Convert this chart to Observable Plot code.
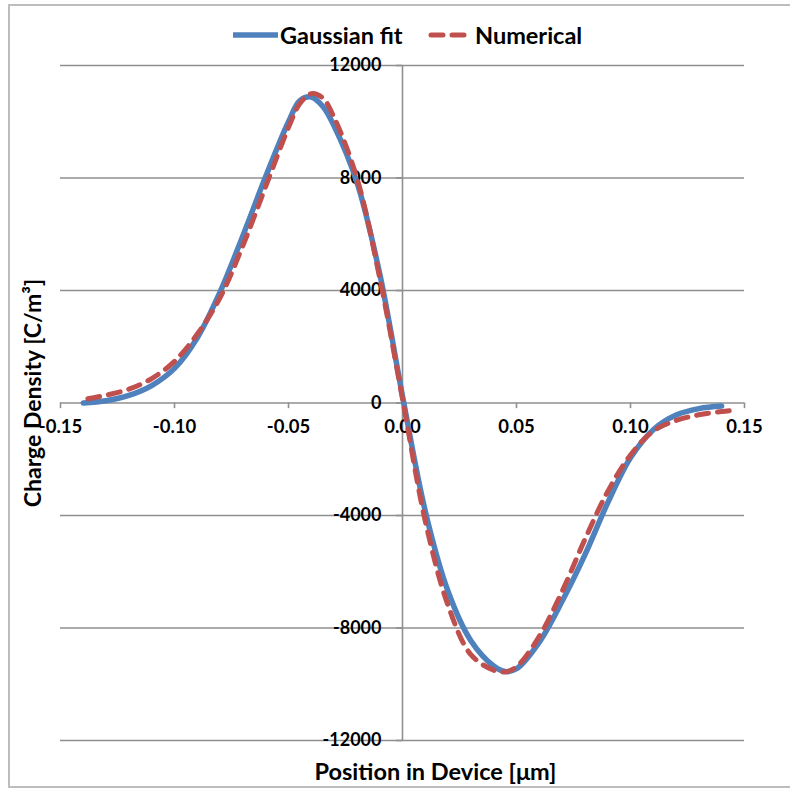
<!DOCTYPE html>
<html><head><meta charset="utf-8">
<script src="https://cdn.jsdelivr.net/npm/d3@7"></script>
<script src="https://cdn.jsdelivr.net/npm/@observablehq/plot@0.6"></script>
<style>
body{margin:0;background:#fff;font-family:Lato,sans-serif;}
#wrap{position:relative;width:790px;height:789px;overflow:hidden;background:#fff}
#border{position:absolute;left:8px;top:4px;width:800px;height:784px;border:2px solid #bdbdbd;box-sizing:border-box;pointer-events:none}
#legend{position:absolute;top:20px;left:0;width:790px;height:30px;font-weight:700;font-size:23.5px;color:#000}
.item{position:absolute;top:0;display:flex;align-items:center;height:30px}
svg.chart{position:absolute;left:0;top:0}
</style>
</head><body>
<div id="wrap"><div id="border"></div><div id="legend"></div></div>
<script>
// Series: Gaussian fit
const gaussX = [-0.14,-0.13,-0.12,-0.11,-0.10,-0.09,-0.08,-0.07,-0.06,-0.05,-0.045,-0.04,-0.035,-0.03,-0.02,-0.01,0.00,0.01,0.02,0.03,0.04,0.045,0.05,0.06,0.07,0.08,0.09,0.10,0.11,0.12,0.13,0.14];
const gaussY = [0,80,270,620,1230,2320,3950,5950,8050,10000,10750,10880,10550,9850,7850,4600,250,-3850,-6700,-8450,-9350,-9550,-9450,-8500,-7050,-5400,-3550,-1950,-950,-430,-200,-110];
// Series: Numerical
const numX = [-0.138,-0.13,-0.12,-0.11,-0.10,-0.09,-0.08,-0.07,-0.06,-0.05,-0.045,-0.04,-0.035,-0.03,-0.02,-0.01,0.00,0.01,0.02,0.03,0.04,0.045,0.05,0.06,0.07,0.08,0.09,0.10,0.11,0.12,0.13,0.14,0.147];
const numY = [150,280,490,870,1480,2450,3750,5600,7700,9800,10650,11000,10850,10150,8000,4450,150,-4200,-7200,-8950,-9500,-9560,-9380,-8300,-6700,-4850,-3150,-1850,-1000,-620,-420,-300,-250];
const seriesNames = ["Gaussian fit","Numerical"];
const seriesColors = ["#4f81bd","#c0504d"];
const xTicks = [-0.15,-0.10,-0.05,0.00,0.05,0.10,0.15];
const xTickLabels = ["-0.15","-0.10","-0.05","0.00","0.05","0.10","0.15"];
const yTicks = [-12000,-8000,-4000,0,4000,8000,12000];
const yTickLabels = ["-12000","-8000","-4000","0","4000","8000","12000"];
const xTitle = "Position in Device [μm]";
const yTitle = "Charge Density [C/m³]";

const gauss = gaussX.map((x,i)=>({x, y:gaussY[i]}));
const num = numX.map((x,i)=>({x, y:numY[i]}));
const xt = xTicks.map((v,i)=>({v, label:xTickLabels[i]}));
const yt = yTicks.map((v,i)=>({v, label:yTickLabels[i]}));
const grid = "#8f8f8f";
const font = "Lato, sans-serif";

const chart = Plot.plot({
  width:790, height:789,
  marginLeft:60, marginRight:46, marginTop:65, marginBottom:49,
  style:{fontFamily:font, background:"transparent"},
  x:{domain:[-0.15,0.15], axis:null},
  y:{domain:[-12000,12000], axis:null},
  marks:[
    Plot.ruleY(yTicks,{stroke:grid, strokeWidth:1.6}),
    Plot.ruleX([0],{y1:-12000,y2:12000,stroke:grid,strokeWidth:1.6}),
    Plot.ruleX(xTicks,{y1:0,y2:-200,stroke:grid,strokeWidth:1.6}),
    Plot.ruleY(yTicks,{x1:-0.0027,x2:0,stroke:grid,strokeWidth:1.6}),
    Plot.text(xt,{x:"v", y:0, dy:24, text:"label", fontWeight:700, fontSize:18.5, fill:"#000"}),
    Plot.text(yt,{x:0, y:"v", dx:-21, textAnchor:"end", text:"label", fontWeight:700, fontSize:18, fill:"#000"}),
    Plot.text([xTitle],{frameAnchor:"bottom", dx:33, dy:32, textAnchor:"middle", lineAnchor:"middle", text:d=>d, fontWeight:700, fontSize:23.5, fill:"#000"}),
    Plot.text([yTitle],{frameAnchor:"left", dx:-27, dy:-10, rotate:-90, textAnchor:"middle", lineAnchor:"middle", text:d=>d, fontWeight:700, fontSize:23, fill:"#000"}),
    Plot.line(gauss,{x:"x", y:"y", stroke:seriesColors[0], strokeWidth:5.5, curve:"catmull-rom"}),
    Plot.line(num,{x:"x", y:"y", stroke:seriesColors[1], strokeWidth:5, curve:"catmull-rom", strokeDasharray:"12,9", strokeLinecap:"round"})
  ]
});
chart.classList.add("chart");
document.getElementById("wrap").insertBefore(chart, document.getElementById("border"));

// legend
const legend = document.getElementById("legend");
const lx = [233, 428];
seriesNames.forEach((name,i)=>{
  const d = document.createElement("div");
  d.className = "item";
  d.style.left = lx[i]+"px";
  const dash = i===1 ? 'stroke-dasharray="12,9" stroke-linecap="round"' : '';
  const x1 = i===1 ? 3 : 0, x2 = i===1 ? 42 : 45;
  d.innerHTML = `<svg width="46" height="10"><line x1="${x1}" y1="5" x2="${x2}" y2="5" stroke="${seriesColors[i]}" stroke-width="${i===1?5:5.5}" ${dash}/></svg><span style="margin-left:1px">${name}</span>`;
  legend.appendChild(d);
});
</script>
</body></html>
